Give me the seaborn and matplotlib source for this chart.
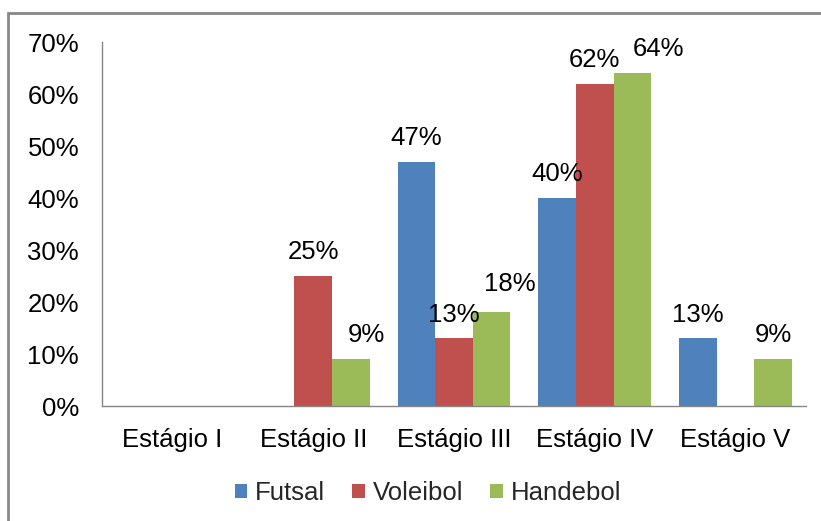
import matplotlib
matplotlib.use("Agg")
import matplotlib.pyplot as plt
import seaborn as sns
import pandas as pd
from matplotlib.patches import Rectangle

categories = ["Estágio I", "Estágio II", "Estágio III", "Estágio IV", "Estágio V"]
futsal = [0, 0, 47, 40, 13]
voleibol = [0, 25, 13, 62, 0]
handebol = [0, 9, 18, 64, 9]
series_names = ["Futsal", "Voleibol", "Handebol"]
colors = ["#4F81BD", "#C0504D", "#9BBB59"]
yticks = [0, 10, 20, 30, 40, 50, 60, 70]

# label nudges (points) to mimic the reference's label placement
label_nudge = {("Handebol", 1): (11.5, 0), ("Handebol", 2): (13, 3), ("Handebol", 3): (18.5, 0)}

rows = []
for name, vals in zip(series_names, [futsal, voleibol, handebol]):
    for c, v in zip(categories, vals):
        rows.append({"Estágio": c, "Série": name, "Valor": v})
df = pd.DataFrame(rows)

sns.set_theme(style="white")
plt.rcParams["font.family"] = ["Liberation Sans", "DejaVu Sans"]
FS = 18.5

fig = plt.figure(figsize=(8.21, 5.21), dpi=100)
ax = fig.add_axes([102/821, 1 - 406/521, (806-102)/821, (406-42)/521])

sns.barplot(data=df, x="Estágio", y="Valor", hue="Série", order=categories,
            hue_order=series_names, palette=colors, ax=ax, width=0.8,
            saturation=1, linewidth=0, errorbar=None)

PAD = 8.5
for name, cont, vals in zip(series_names, ax.containers, [futsal, voleibol, handebol]):
    labels = [f"{v}%" if v > 0 else "" for v in vals]
    anns = ax.bar_label(cont, labels=labels, padding=PAD, fontsize=FS, color="black", zorder=5)
    for i, a in enumerate(anns):
        dx, dy = label_nudge.get((name, i), (0, 0))
        a.xyann = (dx, PAD + dy)

ax.set_ylim(0, 70)
ax.set_xlim(-0.5, 4.5)
ax.set_yticks(yticks)
ax.set_yticklabels([f"{t}%" for t in yticks], fontsize=FS)
ax.tick_params(axis="both", length=0, labelsize=FS, colors="black")
ax.tick_params(axis="y", pad=16.5)
ax.tick_params(axis="x", pad=16)
ax.set_xlabel("")
ax.set_ylabel("")
for s in ["top", "right"]:
    ax.spines[s].set_visible(False)
for s in ["left", "bottom"]:
    ax.spines[s].set_color("#868686")
    ax.spines[s].set_linewidth(1)

handles, labs = ax.get_legend_handles_labels()
ax.legend_.remove()
fig.legend(handles, labs, loc="center", bbox_to_anchor=(428/821, 1 - 493/521),
           ncol=3, frameon=False, fontsize=FS, handlelength=0.5, handleheight=0.5,
           handletextpad=0.3, columnspacing=1.05)

fig.patches.append(Rectangle((8/821, -0.05), 1.2, 1 - 13/521 + 0.05,
                             transform=fig.transFigure, fill=False,
                             edgecolor="#888888", linewidth=2))

fig.savefig("out.png", dpi=100)
